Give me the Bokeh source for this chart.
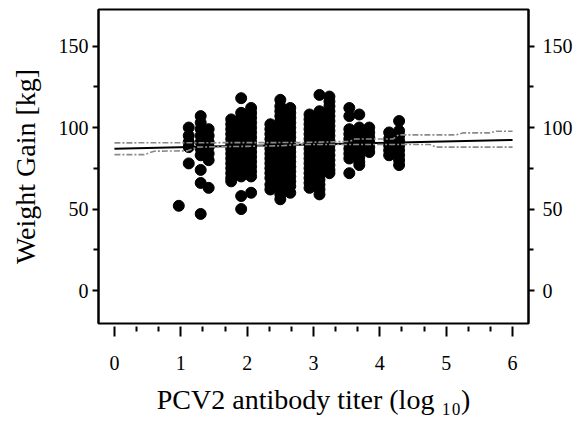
from bokeh.plotting import figure
from bokeh.models import FixedTicker, LinearAxis, Range1d, ColumnDataSource
from bokeh.embed import file_html
from bokeh.resources import INLINE

# ---- data ----
titer_levels = [0.97, 1.12, 1.30, 1.42, 1.76, 1.91, 2.06, 2.35, 2.50, 2.65,
                2.94, 3.09, 3.24, 3.54, 3.69, 3.84, 4.14, 4.29]
gain_by_level = [
    [52],
    [100, 95, 91, 88, 78],
    [107, 103, 99, 95, 91, 87, 83, 74, 66, 47],
    [99, 95, 91, 88, 84, 80, 63],
    [105, 102, 99, 96, 93, 90, 87, 84, 81, 78, 75, 72, 69, 67],
    [118, 109, 106, 103, 100, 97, 94, 91, 88, 85, 82, 79, 76, 73, 70, 58, 50],
    [112, 109, 106, 103, 100, 97, 94, 91, 88, 85, 82, 79, 76, 73, 70, 60],
    [102, 99, 96, 93, 90, 87, 84, 81, 78, 75, 72, 69, 65, 62],
    [117, 113, 110, 107, 104, 101, 98, 95, 92, 89, 86, 83, 80, 77, 74, 71, 68, 65, 62, 59, 56],
    [112, 109, 106, 103, 100, 97, 94, 91, 88, 85, 82, 79, 76, 73, 70, 67, 64, 60],
    [108, 105, 102, 99, 96, 93, 90, 87, 84, 81, 78, 75, 72, 69, 66, 63],
    [120, 110, 107, 104, 101, 98, 95, 92, 89, 86, 83, 80, 77, 74, 71, 68, 65, 62, 59],
    [119, 116, 113, 110, 107, 104, 101, 98, 95, 92, 89, 86, 83, 80, 77, 74, 72],
    [112, 107, 99, 96, 93, 90, 87, 84, 81, 72],
    [108, 100, 97, 94, 91, 88, 85, 82, 79, 77],
    [100, 97, 94, 91, 88, 85],
    [97, 93, 89, 86, 83],
    [104, 98, 95, 92, 89, 86, 83, 80, 77],
]

fit_x = [0, 6]
fit_y = [87.0, 92.4]

upper_x = [0, 2.8, 3.55, 3.62, 4.2, 4.28, 5.15, 5.25, 5.65, 5.75, 6.0]
upper_y = [90.6, 90.8, 91.5, 93.0, 93.0, 95.5, 95.5, 96.7, 96.7, 97.7, 97.7]
lower_x = [0, 0.45, 0.6, 1.1, 1.25, 2.5, 2.8, 4.75, 4.85, 6.0]
lower_y = [83.4, 83.4, 85.5, 85.7, 88.0, 88.8, 89.6, 89.6, 88.0, 88.0]

x_major = [0, 1, 2, 3, 4, 5, 6]
x_minor = [0.333, 0.667, 1.333, 1.667, 2.333, 2.667, 3.333, 3.667,
           4.333, 4.667, 5.333, 5.667]
y_major = [0, 50, 100, 150]
y_minor = [25, 75, 125]

# ---- build ----
xs, ys = [], []
for t, gains in zip(titer_levels, gain_by_level):
    for g in gains:
        xs.append(t)
        ys.append(g)
src = ColumnDataSource(dict(x=xs, y=ys))

FONT = "Liberation Serif"

p = figure(width=575, height=421, output_backend="svg", toolbar_location=None,
           x_range=Range1d(-0.24, 6.24), y_range=Range1d(-20.2, 172.4),
           min_border_left=98, min_border_right=45, min_border_top=9,
           min_border_bottom=98)
p.grid.visible = False
p.outline_line_color = "black"
p.outline_line_width = 2
p.background_fill_color = "white"
p.border_fill_color = "white"

p.scatter("x", "y", source=src, size=11, color="black")
p.line(fit_x, fit_y, color="black", line_width=2)
p.line(upper_x, upper_y, color="#8a8a8a", line_width=1.6, line_dash="6 2 2 2")
p.line(lower_x, lower_y, color="#8a8a8a", line_width=1.6, line_dash="6 2 2 2")

xa = p.xaxis[0]
xa.ticker = FixedTicker(ticks=x_major, minor_ticks=x_minor)
xa.axis_line_color = None
xa.major_tick_in = -3
xa.major_tick_out = 13
xa.minor_tick_in = -3
xa.minor_tick_out = 8
xa.major_tick_line_width = 2
xa.minor_tick_line_width = 2
xa.major_tick_line_color = "black"
xa.minor_tick_line_color = "black"
xa.major_label_text_font = FONT
xa.major_label_text_font_size = "20px"
xa.major_label_text_color = "black"
xa.major_label_standoff = 19
xa.axis_label = "PCV2 antibody titer (log ₁₀)"
xa.axis_label_text_font = FONT
xa.axis_label_text_font_style = "normal"
xa.axis_label_text_font_size = "28px"
xa.axis_label_text_color = "black"
xa.axis_label_standoff = 11

def style_y(ax):
    ax.ticker = FixedTicker(ticks=y_major, minor_ticks=y_minor)
    ax.axis_line_color = "black"
    ax.axis_line_width = 2
    ax.major_tick_in = 0
    ax.major_tick_out = 6
    ax.minor_tick_in = 0
    ax.minor_tick_out = 5
    ax.major_tick_line_width = 2
    ax.minor_tick_line_width = 2
    ax.major_tick_line_color = "black"
    ax.minor_tick_line_color = "black"
    ax.major_label_text_font = FONT
    ax.major_label_text_font_size = "20px"
    ax.major_label_text_color = "black"
    ax.major_label_standoff = 4
    ax.major_label_orientation = "horizontal"

ya = p.yaxis[0]
style_y(ya)
ya.axis_label = "Weight Gain [kg]"
ya.axis_label_text_font = FONT
ya.axis_label_text_font_style = "normal"
ya.axis_label_text_font_size = "28px"
ya.axis_label_text_color = "black"
ya.axis_label_standoff = 15

yr = LinearAxis()
style_y(yr)
yr.major_label_standoff = 8
p.add_layout(yr, "right")

open("out.html", "w").write(file_html(p, INLINE))
